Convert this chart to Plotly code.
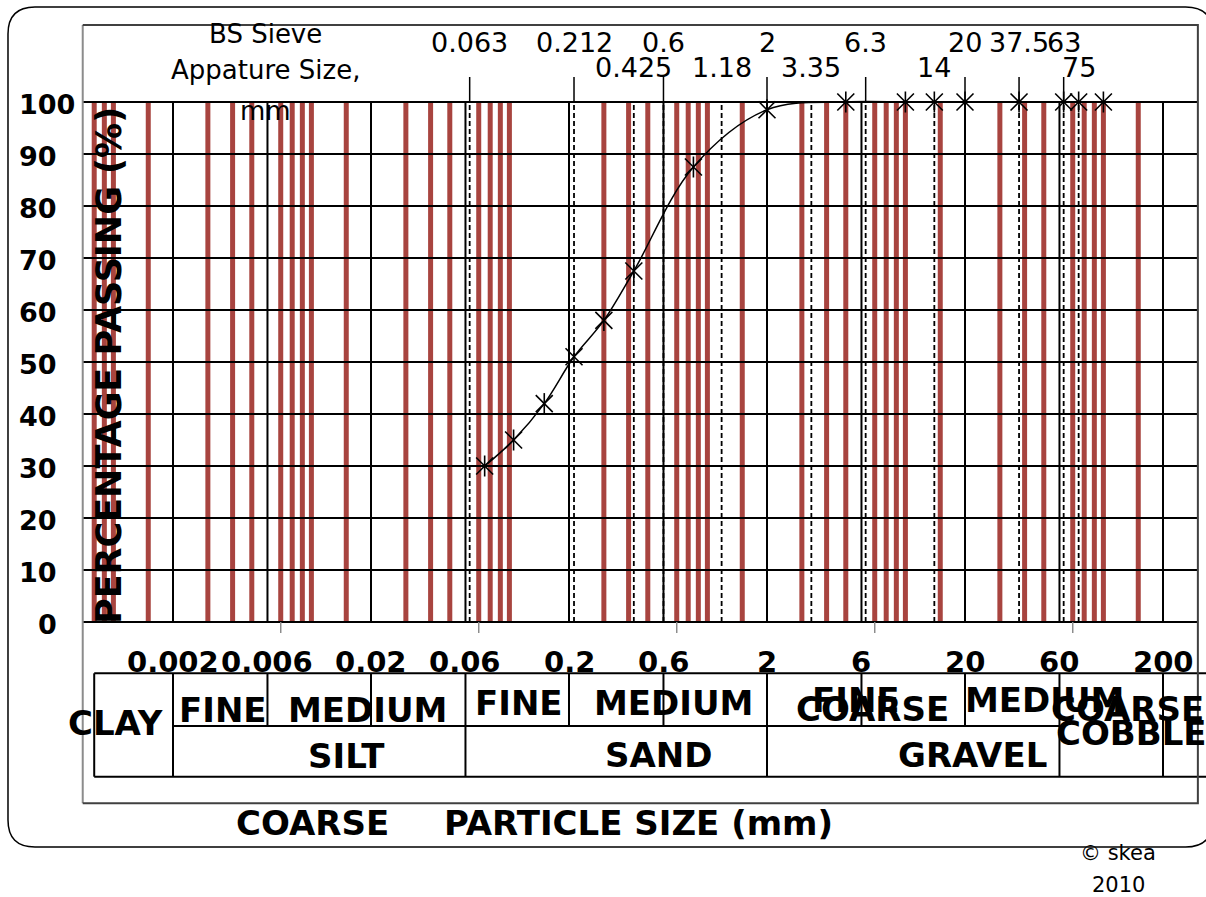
import math
import plotly.graph_objects as go

W, H = 1206, 897

# ---------------- data ----------------
sieve_sizes = [0.075, 0.105, 0.15, 0.212, 0.3, 0.425, 0.85, 2, 5, 10, 14, 20, 37.5, 63, 75, 100]
percent_passing = [30, 35, 42, 51, 58, 67.5, 87.5, 98.5, 100, 100, 100, 100, 100, 100, 100, 100]

major_sizes = [0.002, 0.006, 0.02, 0.06, 0.2, 0.6, 2, 6, 20, 60, 200]
major_labels = ["0.002", "0.006", "0.02", "0.06", "0.2", "0.6", "2", "6", "20", "60", "200"]

minor_sizes = [0.0008, 0.0009, 0.001, 0.0015,
               0.003, 0.004, 0.005, 0.007, 0.008, 0.009, 0.01, 0.015,
               0.03, 0.04, 0.05, 0.07, 0.08, 0.09, 0.1,
               0.3, 0.4, 0.5, 0.7, 0.8, 0.9, 1, 1.5,
               3, 4, 5, 7, 8, 9, 10, 15,
               30, 40, 50, 70, 80, 90, 100, 150]

axis_tick_sizes = [0.007, 0.07, 0.7, 7, 70]

bs_row1 = [0.063, 0.212, 0.6, 2, 6.3, 20, 37.5, 63]
bs_row1_labels = ["0.063", "0.212", "0.6", "2", "6.3", "20", "37.5", "63"]
bs_row2 = [0.425, 1.18, 3.35, 14, 75]
bs_row2_labels = ["0.425", "1.18", "3.35", "14", "75"]

y_ticks = [0, 10, 20, 30, 40, 50, 60, 70, 80, 90, 100]
y_tick_labels = [str(v) for v in y_ticks]

plot_x_min, plot_x_max = 0.0007, 300
table_x_min, table_x_max = 0.0008, 600
table_full_dividers = [0.0008, 0.002, 0.06, 2, 60, 200]
table_half_dividers = [0.006, 0.02, 0.2, 0.6, 6, 20]

# ---------------- geometry (pixels) ----------------
X_REF_PX, X_REF_VAL, PX_PER_DEC = 173.0, 0.002, 198.0
Y0_PX, PX_PER_UNIT = 622.0, 5.2
xr = [math.log10(X_REF_VAL) - X_REF_PX / PX_PER_DEC,
      math.log10(X_REF_VAL) + (W - X_REF_PX) / PX_PER_DEC]
yr = [-(H - Y0_PX) / PX_PER_UNIT, Y0_PX / PX_PER_UNIT]


def pxx(x):
    return x / W


def pxy(y):
    return 1 - y / H


def yval(py):
    return (Y0_PX - py) / PX_PER_UNIT


def vsegs(xs, y0, y1):
    X, Y = [], []
    for x in xs:
        X += [x, x, None]
        Y += [y0, y1, None]
    return X, Y


def hsegs(ys, x0, x1):
    X, Y = [], []
    for y in ys:
        X += [x0, x1, None]
        Y += [y, y, None]
    return X, Y


fig = go.Figure()

RED = "#A8443F"

# red minor lines
X, Y = vsegs(minor_sizes, 0, 100)
fig.add_trace(go.Scatter(x=X, y=Y, mode="lines", line=dict(color=RED, width=5), hoverinfo="skip"))

# horizontal gridlines
X, Y = hsegs(y_ticks, plot_x_min, plot_x_max)
fig.add_trace(go.Scatter(x=X, y=Y, mode="lines", line=dict(color="black", width=2), hoverinfo="skip"))

# vertical major gridlines
X, Y = vsegs(major_sizes, 0, 100)
fig.add_trace(go.Scatter(x=X, y=Y, mode="lines", line=dict(color="black", width=2), hoverinfo="skip"))

# dashed BS sieve lines
X, Y = vsegs(sorted(bs_row1 + bs_row2), 0, 100)
fig.add_trace(go.Scatter(x=X, y=Y, mode="lines", line=dict(color="black", width=1.8, dash="5px,3px"),
                         hoverinfo="skip"))

# short solid ticks above plot for row-1 sieve labels
X, Y = vsegs(bs_row1, 100, yval(77))
fig.add_trace(go.Scatter(x=X, y=Y, mode="lines", line=dict(color="black", width=1.5), hoverinfo="skip"))

# small grey axis ticks
X, Y = vsegs(axis_tick_sizes, 0, yval(633))
fig.add_trace(go.Scatter(x=X, y=Y, mode="lines", line=dict(color="#8c8c8c", width=1.5), hoverinfo="skip"))

# classification table
t_top, t_mid, t_bot = yval(673.3), yval(726), yval(776.7)
X, Y = hsegs([t_top, t_bot], table_x_min, table_x_max)
X2, Y2 = [0.002, 60, None], [t_mid, t_mid, None]
X3, Y3 = vsegs(table_full_dividers, t_top, t_bot)
X4, Y4 = vsegs(table_half_dividers, t_top, t_mid)
fig.add_trace(go.Scatter(x=X + X2 + X3 + X4, y=Y + Y2 + Y3 + Y4, mode="lines",
                         line=dict(color="black", width=2), hoverinfo="skip"))

# inner frame
f_top, f_bot = yval(25), yval(803.3)
fig.add_trace(go.Scatter(x=[plot_x_min, plot_x_min], y=[f_bot, f_top], mode="lines",
                         line=dict(color="#8c8c8c", width=2), hoverinfo="skip"))
fig.add_trace(go.Scatter(x=[plot_x_min, plot_x_max, plot_x_max, plot_x_min],
                         y=[f_top, f_top, f_bot, f_bot], mode="lines",
                         line=dict(color="#404040", width=2), hoverinfo="skip"))

# grading curve
fig.add_trace(go.Scatter(x=sieve_sizes, y=percent_passing, mode="lines",
                         line=dict(color="black", width=1.5, shape="spline", smoothing=1.0),
                         hoverinfo="skip"))
fig.add_trace(go.Scatter(x=sieve_sizes, y=percent_passing, mode="markers",
                         marker=dict(symbol="x-thin-open", size=17, color="black",
                                     line=dict(color="black", width=1.6)), hoverinfo="skip"))
fig.add_trace(go.Scatter(x=sieve_sizes, y=percent_passing, mode="markers",
                         marker=dict(symbol="line-ns-open", size=15, color="black",
                                     line=dict(color="black", width=1.6)), hoverinfo="skip"))

ann = []
FONT = "DejaVu Sans"


def add_px(text, x, y, size, bold=True, xanchor="center", yanchor="middle", angle=0):
    ann.append(dict(text=("<b>%s</b>" % text) if bold else text, x=pxx(x), y=pxy(y),
                    xref="paper", yref="paper", xanchor=xanchor, yanchor=yanchor,
                    showarrow=False, textangle=angle,
                    font=dict(family=FONT, size=size, color="black")))


# y tick labels
for v, lab in zip(y_ticks, y_tick_labels):
    py = Y0_PX - v * PX_PER_UNIT + 2.5
    if v == 100:
        add_px(lab, 17, py, 27, xanchor="left")
    else:
        add_px(lab, 59, py, 27, xanchor="right")

# x tick labels (bottom)
for v, lab in zip(major_sizes, major_labels):
    ann.append(dict(text="<b>%s</b>" % lab, x=math.log10(v), y=yval(661.7), xref="x", yref="y",
                    xanchor="center", yanchor="middle", showarrow=False,
                    font=dict(family=FONT, size=29, color="black")))

# BS sieve labels on top
for v, lab in zip(bs_row1, bs_row1_labels):
    ann.append(dict(text=lab, x=math.log10(v), y=yval(42.5), xref="x", yref="y",
                    xanchor="center", yanchor="middle", showarrow=False,
                    font=dict(family=FONT, size=27, color="black")))
for v, lab in zip(bs_row2, bs_row2_labels):
    ann.append(dict(text=lab, x=math.log10(v), y=yval(67.5), xref="x", yref="y",
                    xanchor="center", yanchor="middle", showarrow=False,
                    font=dict(family=FONT, size=27, color="black")))

add_px("BS Sieve", 265, 34, 26, bold=False)
add_px("Appature Size,", 265, 70, 26, bold=False)
add_px("mm", 265, 111, 26, bold=False)

# axis titles
add_px("PERCENTAGE PASSING (%)", 109, 366, 35, angle=-90)
add_px("COARSE", 312.5, 822.5, 34)
add_px("PARTICLE SIZE (mm)", 638.5, 822.5, 34)

# classification labels
table_labels = [
    ("CLAY", 115, 722.5), ("FINE", 223, 710), ("MEDIUM", 367, 710), ("SILT", 346, 756),
    ("FINE", 519, 702.5), ("MEDIUM", 673, 702.5), ("SAND", 658.5, 755),
    ("FINE", 856, 700), ("COARSE", 872, 708.5), ("MEDIUM", 1044.5, 700),
    ("COARSE", 1127, 708.5), ("COBBLE", 1131, 733), ("GRAVEL", 972, 755),
]
for t, x, y in table_labels:
    add_px(t, x, y, 34)

add_px("© skea", 1118, 853, 21, bold=False)
add_px("2010", 1118, 885, 21, bold=False)

# outer rounded border
L, T, R, B, r = 8, 7, 1212.6, 847, 27


def P(x, y):
    return "%.5f,%.5f" % (pxx(x), pxy(y))


path = ("M %s L %s Q %s %s L %s Q %s %s L %s Q %s %s L %s Q %s %s Z" % (
    P(L + r, T), P(R - r, T), P(R, T), P(R, T + r), P(R, B - r), P(R, B), P(R - r, B),
    P(L + r, B), P(L, B), P(L, B - r), P(L, T + r), P(L, T), P(L + r, T)))

fig.update_layout(
    width=W, height=H, margin=dict(l=0, r=0, t=0, b=0),
    paper_bgcolor="white", plot_bgcolor="rgba(0,0,0,0)", showlegend=False,
    xaxis=dict(type="log", range=xr, domain=[0, 1], visible=False, fixedrange=True),
    yaxis=dict(range=yr, domain=[0, 1], visible=False, fixedrange=True),
    annotations=ann,
    shapes=[dict(type="path", path=path, xref="paper", yref="paper",
                 line=dict(color="black", width=1.5), layer="above")],
)

fig.write_html("out.html")
